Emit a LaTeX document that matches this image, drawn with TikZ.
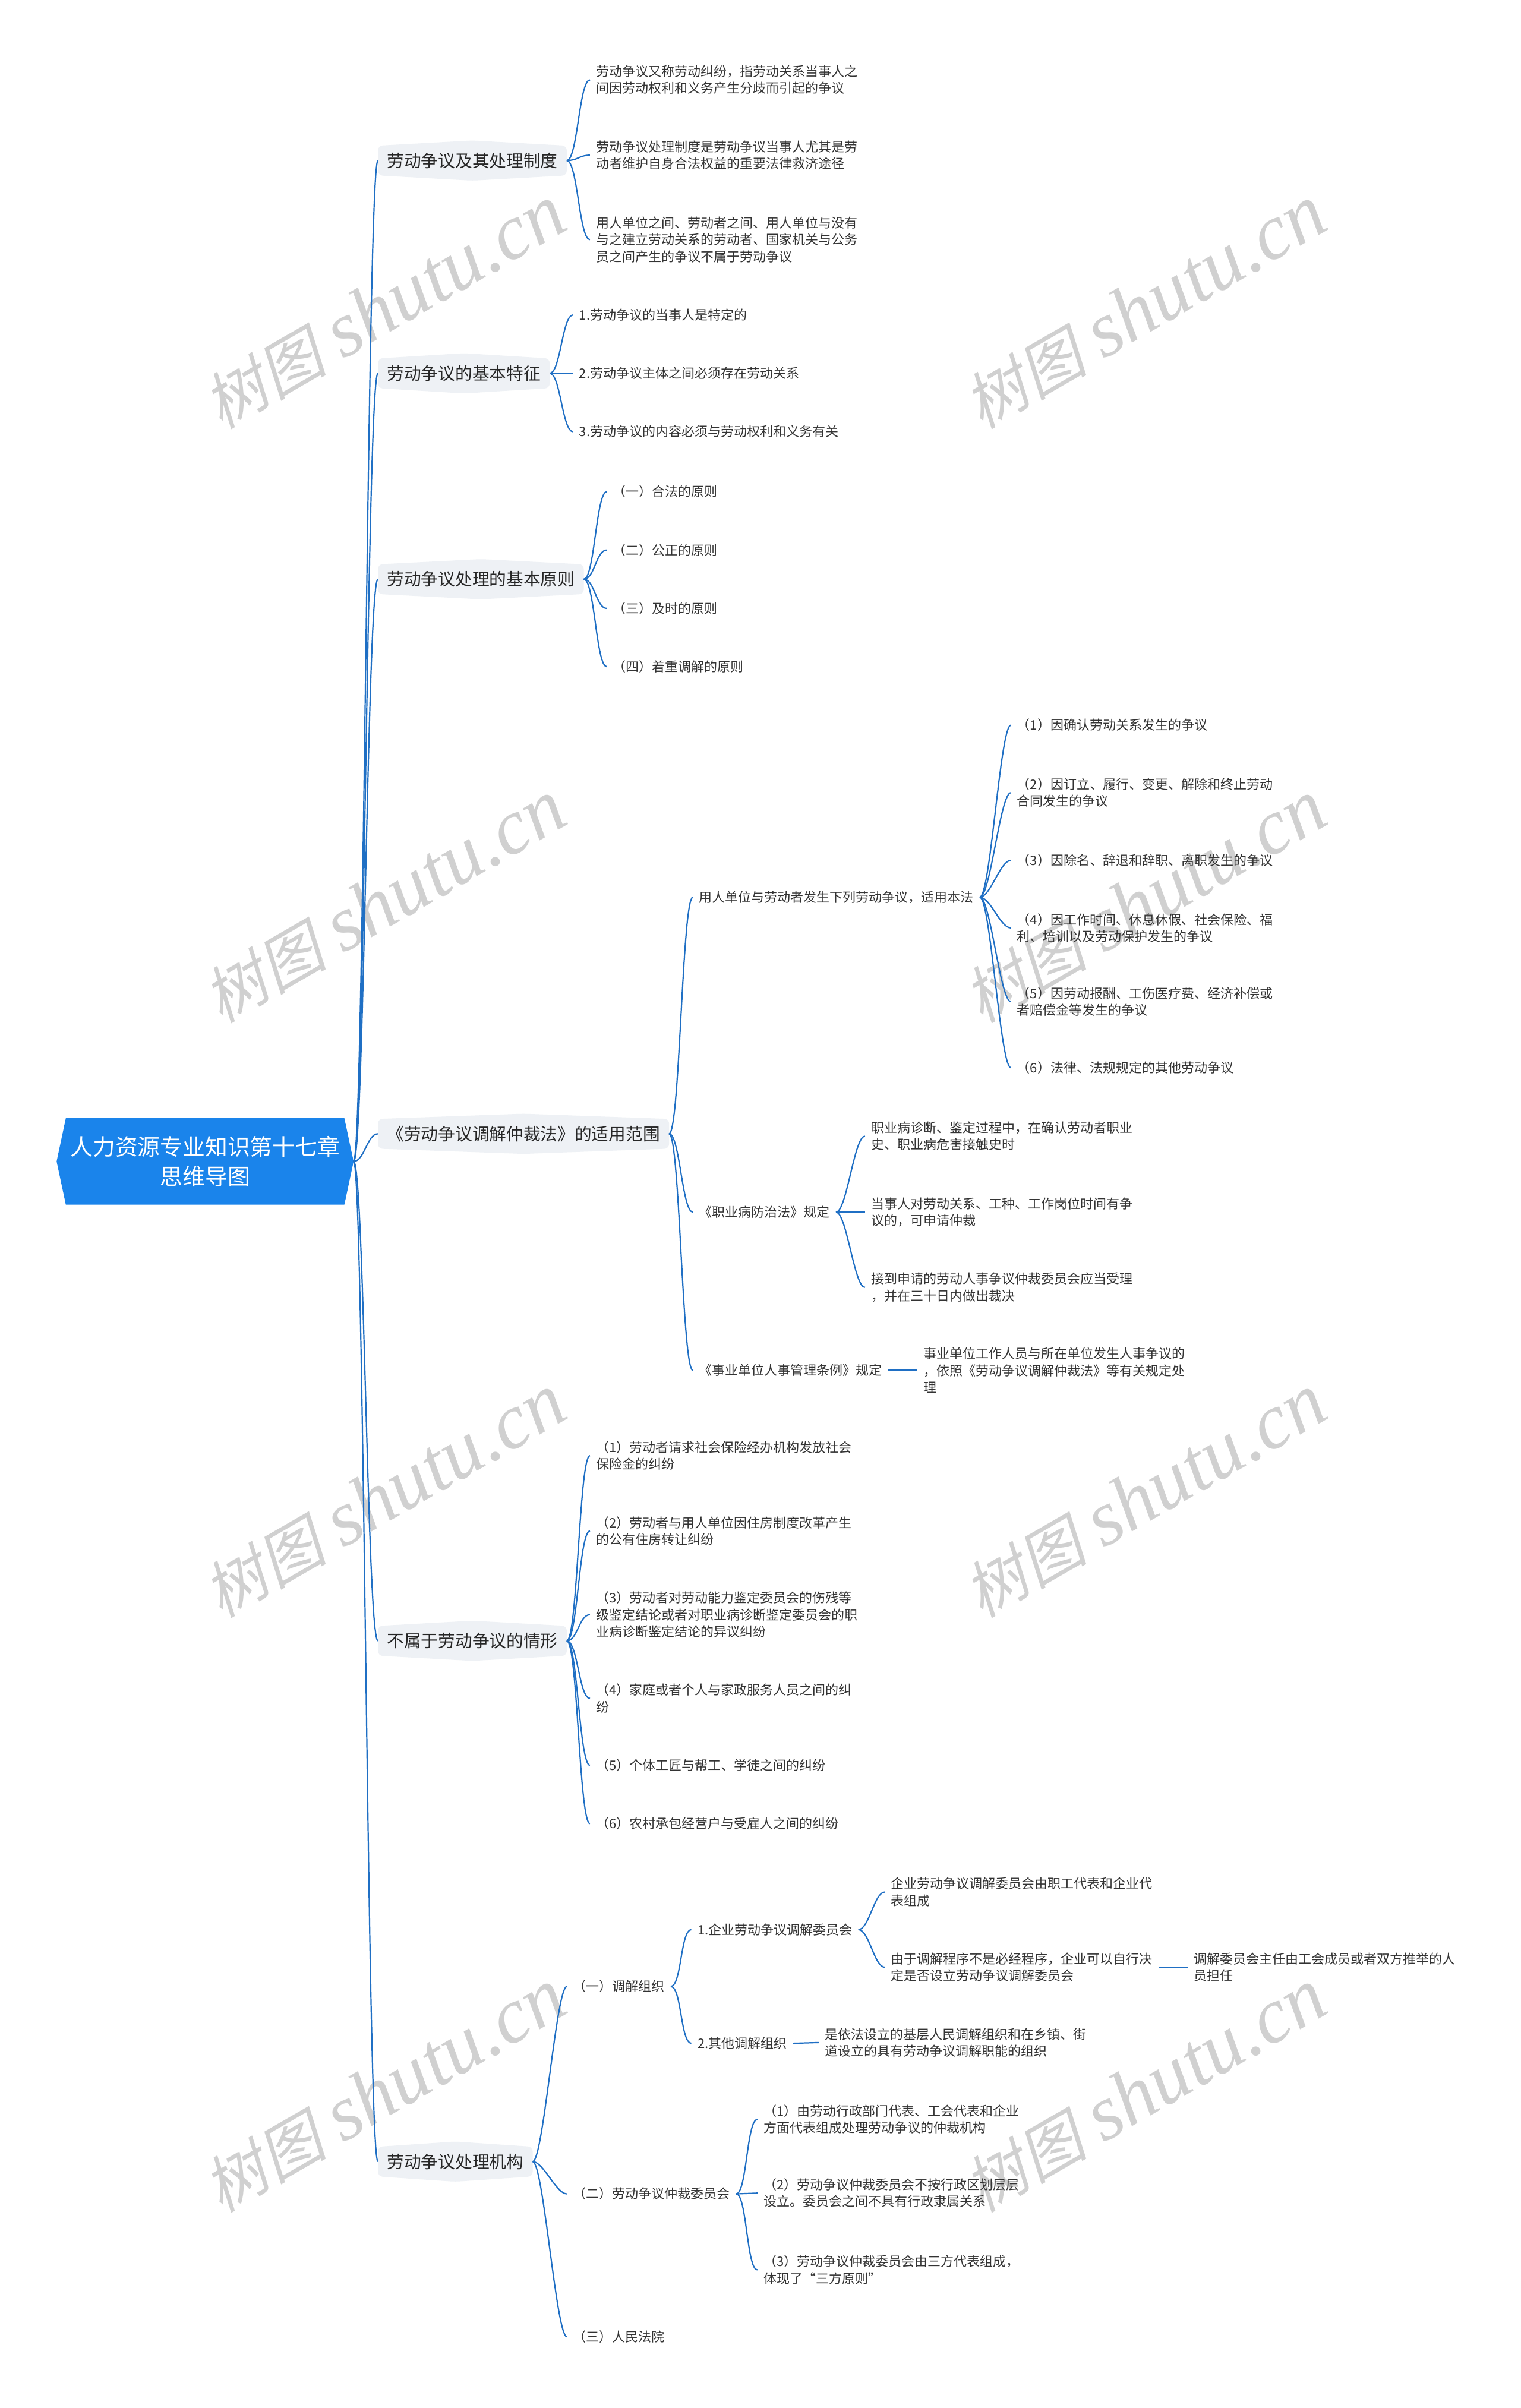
\documentclass[tikz,border=0pt]{standalone}
\usepackage{fontspec}
\newfontfamily\cjk{Noto Sans CJK SC}
\newfontfamily\wmcjk[FakeSlant=0.22]{Noto Sans CJK SC}
\newfontfamily\wmlat{Liberation Serif}
\usetikzlibrary{calc}
\pgfdeclarelayer{bg}
\pgfsetlayers{bg,main}
\definecolor{rootc}{HTML}{1A84EB}
\definecolor{linec}{HTML}{1F6FC4}
\definecolor{bfill}{HTML}{EEF1F5}
\definecolor{txt}{HTML}{333333}
\definecolor{dtxt}{HTML}{262626}
\definecolor{wm}{HTML}{D0D0D0}
\tikzset{
 leaf/.style={font=\cjk\fontsize{11}{14.2}\selectfont, text=txt, align=left, anchor=west, inner xsep=5pt, inner ysep=1pt},
 branch/.style={font=\cjk\fontsize{14.35}{17}\selectfont, text=dtxt, anchor=west, inner xsep=7.5pt, inner ysep=0pt, minimum height=24.6pt},
 rootnode/.style={font=\cjk\fontsize{18.9}{24.6}\selectfont, text=white, align=center, minimum width=249.5pt, minimum height=72.4pt, inner sep=0pt},
 conn/.style={draw=linec, line width=1.1pt},
 wmark/.style={text=wm, rotate=30, inner sep=0pt},
 bshape/.style={fill=bfill, rounded corners=4pt}
}
\newcommand\cc[2]{\draw[conn] (#1) .. controls ($(#1)+(7,0)$) and ($(#2)+(-7,0)$) .. (#2);}
\newcommand\sline[2]{\draw[conn] (#1) -- (#2);}
\newcommand\wmtext{{\wmcjk\fontsize{52}{52}\selectfont 树图}\hspace*{14pt}{\wmlat\itshape\fontsize{66}{66}\selectfont shutu.cn}}
\newcommand\bbox[1]{\path[bshape] (#1.north west) -- ($(#1.north)+(0,-3.4)$) -- (#1.north east) -- (#1.south east) -- ($(#1.south)+(0,3.4)$) -- (#1.south west) -- cycle;}
\begin{document}
\begin{tikzpicture}[x={(1.2929pt,0)}, y={(0,-1.2929pt)}]
\useasboundingbox (0,0) rectangle (990,1567.4);
\begin{pgfonlayer}{bg}
\fill[white] (0,0) rectangle (990,1567.4);
\node[wmark] (w1) at (250,200) {\wmtext};
\node[wmark] (w2) at (745,200) {\wmtext};
\node[wmark] (w3) at (250,587) {\wmtext};
\node[wmark] (w4) at (745,587) {\wmtext};
\node[wmark] (w5) at (250,974) {\wmtext};
\node[wmark] (w6) at (745,974) {\wmtext};
\node[wmark] (w7) at (250,1361) {\wmtext};
\node[wmark] (w8) at (745,1361) {\wmtext};
\end{pgfonlayer}

% root
\node[rootnode] (root) at (133.5,756) {人力资源专业知识第十七章\\思维导图};
% branches
\node[branch] (b1) at (246,104.5) {劳动争议及其处理制度};
\node[branch] (b2) at (246,243) {劳动争议的基本特征};
\node[branch] (b3) at (246,377) {劳动争议处理的基本原则};
\node[branch] (b4) at (246,738) {《劳动争议调解仲裁法》的适用范围};
\node[branch] (b5) at (246,1068) {不属于劳动争议的情形};
\node[branch] (b6) at (246,1407) {劳动争议处理机构};

\begin{pgfonlayer}{bg}
\fill[rootc] (root.west) -- ($(root.north west)+(6,0)$) -- ($(root.north east)+(-6,0)$) -- (root.east) -- ($(root.south east)+(-6,0)$) -- ($(root.south west)+(6,0)$) -- cycle;
\bbox{b1}\bbox{b2}\bbox{b3}\bbox{b4}\bbox{b5}\bbox{b6}
\end{pgfonlayer}

% branch 1
\node[leaf] (k11) at (384,52) {劳动争议又称劳动纠纷，指劳动关系当事人之\\间因劳动权利和义务产生分歧而引起的争议};
\node[leaf] (k12) at (384,101) {劳动争议处理制度是劳动争议当事人尤其是劳\\动者维护自身合法权益的重要法律救济途径};
\node[leaf] (k13) at (384,156) {用人单位之间、劳动者之间、用人单位与没有\\与之建立劳动关系的劳动者、国家机关与公务\\员之间产生的争议不属于劳动争议};
% branch 2
\node[leaf] (k21) at (373,205) {1.劳动争议的当事人是特定的};
\node[leaf] (k22) at (373,243) {2.劳动争议主体之间必须存在劳动关系};
\node[leaf] (k23) at (373,281) {3.劳动争议的内容必须与劳动权利和义务有关};
% branch 3
\node[leaf] (k31) at (395,320) {（一）合法的原则};
\node[leaf] (k32) at (395,358) {（二）公正的原则};
\node[leaf] (k33) at (395,396) {（三）及时的原则};
\node[leaf] (k34) at (395,434) {（四）着重调解的原则};
% branch 4
\node[leaf] (k41) at (451,584) {用人单位与劳动者发生下列劳动争议，适用本法};
\node[leaf] (k42) at (451,789) {《职业病防治法》规定};
\node[leaf] (k43) at (451,892) {《事业单位人事管理条例》规定};
\node[leaf] (k411) at (658,472) {（1）因确认劳动关系发生的争议};
\node[leaf] (k412) at (658,516) {（2）因订立、履行、变更、解除和终止劳动\\合同发生的争议};
\node[leaf] (k413) at (658,560) {（3）因除名、辞退和辞职、离职发生的争议};
\node[leaf] (k414) at (658,604) {（4）因工作时间、休息休假、社会保险、福\\利、培训以及劳动保护发生的争议};
\node[leaf] (k415) at (658,652) {（5）因劳动报酬、工伤医疗费、经济补偿或\\者赔偿金等发生的争议};
\node[leaf] (k416) at (658,695) {（6）法律、法规规定的其他劳动争议};
\node[leaf] (k421) at (563,739.5) {职业病诊断、鉴定过程中，在确认劳动者职业\\史、职业病危害接触史时};
\node[leaf] (k422) at (563,789) {当事人对劳动关系、工种、工作岗位时间有争\\议的，可申请仲裁};
\node[leaf] (k423) at (563,838) {接到申请的劳动人事争议仲裁委员会应当受理\\，并在三十日内做出裁决};
\node[leaf] (k431) at (597,892) {事业单位工作人员与所在单位发生人事争议的\\，依照《劳动争议调解仲裁法》等有关规定处\\理};
% branch 5
\node[leaf] (k51) at (384,947.5) {（1）劳动者请求社会保险经办机构发放社会\\保险金的纠纷};
\node[leaf] (k52) at (384,996.5) {（2）劳动者与用人单位因住房制度改革产生\\的公有住房转让纠纷};
\node[leaf] (k53) at (384,1051) {（3）劳动者对劳动能力鉴定委员会的伤残等\\级鉴定结论或者对职业病诊断鉴定委员会的职\\业病诊断鉴定结论的异议纠纷};
\node[leaf] (k54) at (384,1105.5) {（4）家庭或者个人与家政服务人员之间的纠\\纷};
\node[leaf] (k55) at (384,1149) {（5）个体工匠与帮工、学徒之间的纠纷};
\node[leaf] (k56) at (384,1187) {（6）农村承包经营户与受雇人之间的纠纷};
% branch 6
\node[leaf] (k61) at (369,1293) {（一）调解组织};
\node[leaf] (k62) at (369,1428) {（二）劳动争议仲裁委员会};
\node[leaf] (k63) at (369,1521) {（三）人民法院};
\node[leaf] (k611) at (450,1256) {1.企业劳动争议调解委员会};
\node[leaf] (k612) at (450,1330) {2.其他调解组织};
\node[leaf] (k6111) at (576,1231.5) {企业劳动争议调解委员会由职工代表和企业代\\表组成};
\node[leaf] (k6112) at (576,1280.5) {由于调解程序不是必经程序，企业可以自行决\\定是否设立劳动争议调解委员会};
\node[leaf] (k61121) at (773,1280.5) {调解委员会主任由工会成员或者双方推举的人\\员担任};
\node[leaf] (k6121) at (533,1329.5) {是依法设立的基层人民调解组织和在乡镇、街\\道设立的具有劳动争议调解职能的组织};
\node[leaf] (k621) at (493,1379.5) {（1）由劳动行政部门代表、工会代表和企业\\方面代表组成处理劳动争议的仲裁机构};
\node[leaf] (k622) at (493,1427.5) {（2）劳动争议仲裁委员会不按行政区划层层\\设立。委员会之间不具有行政隶属关系};
\node[leaf] (k623) at (493,1477.5) {（3）劳动争议仲裁委员会由三方代表组成，\\体现了“三方原则”};

% connectors
\foreach \b in {b1,b2,b3,b4,b5,b6} {\cc{root.east}{\b.west}}
\foreach \k in {k11,k12,k13} {\cc{b1.east}{\k.west}}
\foreach \k in {k21,k22,k23} {\cc{b2.east}{\k.west}}
\foreach \k in {k31,k32,k33,k34} {\cc{b3.east}{\k.west}}
\foreach \k in {k41,k42,k43} {\cc{b4.east}{\k.west}}
\foreach \k in {k411,k412,k413,k414,k415,k416} {\cc{k41.east}{\k.west}}
\foreach \k in {k421,k422,k423} {\cc{k42.east}{\k.west}}
\sline{k43.east}{k431.west}
\foreach \k in {k51,k52,k53,k54,k55,k56} {\cc{b5.east}{\k.west}}
\foreach \k in {k61,k62,k63} {\cc{b6.east}{\k.west}}
\foreach \k in {k611,k612} {\cc{k61.east}{\k.west}}
\foreach \k in {k6111,k6112} {\cc{k611.east}{\k.west}}
\sline{k6112.east}{k61121.west}
\sline{k612.east}{k6121.west}
\foreach \k in {k621,k622,k623} {\cc{k62.east}{\k.west}}
\end{tikzpicture}
\end{document}
